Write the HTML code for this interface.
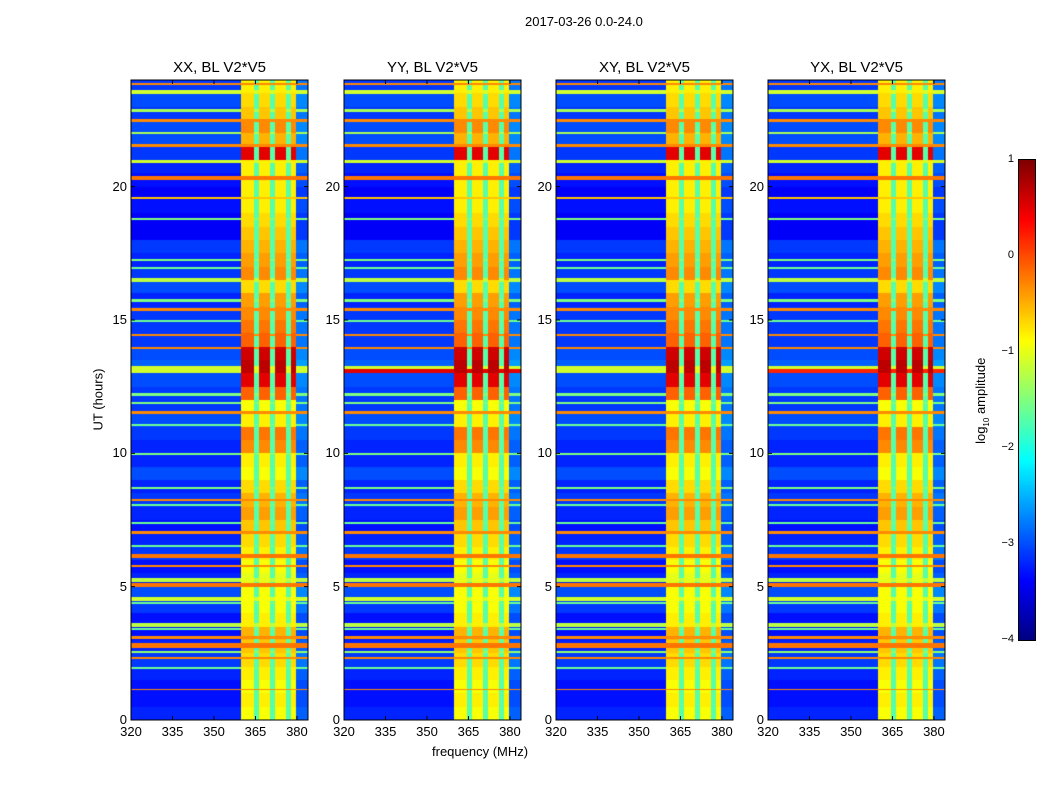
<!DOCTYPE html>
<html><head><meta charset="utf-8"><style>
body{margin:0;background:#fff;font-family:"Liberation Sans","DejaVu Sans",sans-serif;}
#root{position:relative;width:1050px;height:800px;background:#fff;overflow:hidden}
.t{position:absolute;font-size:13px;color:#000;white-space:nowrap}
</style></head><body>
<div id="root">
<div class="t" style="left:525px;top:14px">2017-03-26 0.0-24.0</div>
<div class="t" style="left:432px;top:744px">frequency (MHz)</div>
<div class="t" style="left:62px;top:392px;transform:rotate(-90deg);transform-origin:center;width:72px;text-align:center">UT (hours)</div>
<div class="t" style="left:932px;top:392px;transform:rotate(-90deg);width:100px;text-align:center">log<sub style="font-size:8px">10</sub> amplitude</div>
</div>
<script>
// ---- data ----
const panelNames = ["XX, BL V2*V5","YY, BL V2*V5","XY, BL V2*V5","YX, BL V2*V5"];
const panelLeft = [131,344,556,768];
const xTicks = [320,335,350,365,380];
const yTicks = [0,5,10,15,20];
const cbTicks = [1,0,-1,-2,-3,-4];
// frequency column segments (MHz) and their kind: 0 background, 1 RFI band, 2 gap, 3 edge
const colStart = [320,360,364.8,366.5,370.6,372.4,376.3,378.1,380];
const colEnd   = [360,364.8,366.5,370.6,372.4,376.3,378.1,380,384];
const colKind  = [0,1,2,1,2,1,2,1,3];
// half-hour levels (log10) for the RFI band, 0..24h
const rfiLevel = [-0.9,-0.8,-0.9,-0.8,-0.7,-0.6,-0.5,-0.8,-0.9,-0.9,-1.0,-0.9,-0.8,-0.7,-0.6,-0.4,-0.5,-0.7,-0.9,-0.8,-0.3,-0.2,-0.8,-0.9,
  -0.1,0.5,0.7,0.6,-0.1,-0.2,-0.3,-0.4,-0.7,-0.3,-0.4,-0.5,-0.6,-0.7,-0.8,-0.8,-0.8,-0.8,0.5,-0.5,-0.3,-0.6,-0.7,-0.8];
const bgLevel = [-3.2,-3.3,-3.3,-3.2,-3.1,-3.2,-3.3,-3.3,-3.1,-3.0,-3.2,-3.3,-3.1,-3.2,-3.3,-3.2,-3.1,-3.2,-3.0,-3.2,-3.2,-3.1,-3.0,-3.1,
  -3.1,-3.0,-2.9,-3.0,-3.1,-3.1,-3.1,-3.2,-3.0,-3.1,-3.2,-3.1,-3.4,-3.4,-3.3,-3.4,-3.3,-3.2,-3.1,-3.0,-3.0,-3.1,-3.0,-3.1];
// horizontal full-width RFI lines
const lineHours = [23.85,23.54,22.85,22.48,22.0,21.55,20.94,20.32,19.56,18.8,17.26,16.96,16.5,15.73,15.4,14.96,14.43,13.94,13.2,12.2,11.9,11.52,11.06,9.99,8.69,8.26,8.07,7.38,7.03,6.54,6.16,5.78,5.24,5.06,4.55,4.4,3.56,3.4,3.1,2.79,2.56,2.33,1.95,1.15];
const lineLevels = [-0.3,-1.1,-1.3,-0.3,-1.3,-0.3,-1.1,-0.2,-0.6,-1.5,-1.5,-1.6,-1.2,-1.5,-0.3,-1.6,-0.3,-0.3,-1.1,-1.5,-1.5,-0.3,-1.6,-1.5,-1.5,-0.3,-1.6,-1.6,-0.3,-1.6,-0.2,-0.3,-1.2,-0.2,-1.1,-1.6,-1.2,-1.6,-0.3,-0.2,-1.4,-0.3,-1.6,-0.3];
const lineWidth = [0.05,0.1,0.05,0.1,0.04,0.05,0.1,0.1,0.03,0.04,0.04,0.04,0.1,0.04,0.06,0.04,0.05,0.05,0.12,0.05,0.04,0.06,0.04,0.04,0.04,0.05,0.04,0.04,0.04,0.04,0.1,0.05,0.1,0.1,0.12,0.04,0.08,0.04,0.06,0.12,0.05,0.06,0.04,0.02];
// extra strong line at 13h for YY & YX
const extraLineLevel = [-1.1,0.5,-1.1,0.2];

// ---- rendering ----
const root = document.getElementById('root');
const top0 = 80, H = 640, W = 177, fMin = 320, fMax = 384;
function jet(v){
  let t = (v+4)/5; t = Math.max(0,Math.min(1,t));
  const f = x=>Math.max(0,Math.min(1,x));
  const r=f(1.5-Math.abs(4*t-3)), g=f(1.5-Math.abs(4*t-2)), b=f(1.5-Math.abs(4*t-1));
  return `rgb(${r*255|0},${g*255|0},${b*255|0})`;
}
const xPix = f => (f-fMin)/(fMax-fMin)*W;
const yPix = h => H - h/24*H;
function valueAt(p,h,kind){
  const i = Math.min(47,Math.floor(h*2));
  let v;
  if(kind===1) v = rfiLevel[i];
  else if(kind===2) v = -1.7;
  else if(kind===3) v = bgLevel[i]+0.3;
  else v = bgLevel[i];
  for(let k=0;k<lineHours.length;k++){
    if(Math.abs(h-lineHours[k])<=lineWidth[k]/2+0.02){
      v = kind===1 ? Math.max(v,lineLevels[k]) : lineLevels[k];
    }
  }
  if(Math.abs(h-13.1)<0.08 && kind!==1) v = Math.max(v,extraLineLevel[p]);
  return v;
}
panelNames.forEach((name,p)=>{
  const L = panelLeft[p];
  const tt = document.createElement('div');
  tt.className='t';
  
  
  tt.style.cssText=`left:${L}px;top:59px;width:${W}px;text-align:center;font-size:15px`;
  tt.textContent=name; root.appendChild(tt);
  const c = document.createElement('canvas');
  
  
  c.width=W; c.height=H;
  c.style.cssText=`position:absolute;left:${L}px;top:${top0}px;`;
  root.appendChild(c);
  const ctx=c.getContext('2d');
  for(let y=0;y<H;y++){
    const h = (H-y-0.5)/H*24;
    for(let s=0;s<colStart.length;s++){
      ctx.fillStyle=jet(valueAt(p,h,colKind[s]));
      const x0=xPix(colStart[s]), x1=xPix(colEnd[s]);
      ctx.fillRect(Math.floor(x0),y,Math.ceil(x1)-Math.floor(x0),1);
    }
  }
  const svgNS='http://www.w3.org/2000/svg';
  const svg=document.createElementNS(svgNS,'svg');
  
  
  svg.setAttribute('width',W+2); svg.setAttribute('height',H+2);
  svg.style.cssText=`position:absolute;left:${L-1}px;top:${top0-1}px;overflow:visible`;
  let s=`<rect x="1" y="1" width="${W}" height="${H}" fill="none" stroke="#000" stroke-width="1"/>`;
  xTicks.forEach(f=>{const x=xPix(f)+1;s+=`<line x1="${x}" y1="${H+1}" x2="${x}" y2="${H-3}" stroke="#000"/><line x1="${x}" y1="1" x2="${x}" y2="5" stroke="#000"/>`;});
  yTicks.forEach(hh=>{const y=yPix(hh)+1;s+=`<line x1="1" y1="${y}" x2="5" y2="${y}" stroke="#000"/><line x1="${W+1}" y1="${y}" x2="${W-3}" y2="${y}" stroke="#000"/>`;});
  svg.innerHTML=s; root.appendChild(svg);
  xTicks.forEach(f=>{
    const d=document.createElement('div');d.className='t';
    
    
    d.style.cssText=`left:${L+xPix(f)-15}px;top:${top0+H+4}px;width:30px;text-align:center`;
    d.textContent=f;root.appendChild(d);
  });
  yTicks.forEach(hh=>{
    const d=document.createElement('div');d.className='t';
    
    
    d.style.cssText=`left:${L-34}px;top:${top0+yPix(hh)-8}px;width:30px;text-align:right`;
    d.textContent=hh;root.appendChild(d);
  });
});
const cb=document.createElement('canvas');


cb.width=16;cb.height=480;
cb.style.cssText='position:absolute;left:1019px;top:160px;outline:1px solid #000';
root.appendChild(cb);
const cctx=cb.getContext('2d');
for(let y=0;y<480;y++){cctx.fillStyle=jet(1-y/480*5);cctx.fillRect(0,y,16,1);}
cbTicks.forEach(v=>{
  const y=160+(1-v)/5*480;
  const d=document.createElement('div');d.className='t';
  
  
  d.style.cssText=`left:${985}px;top:${y-7}px;width:29px;text-align:right;font-size:11px`;
  d.textContent=v<0?'\u2212'+(-v):v;root.appendChild(d);
});
</script>
</body></html>
